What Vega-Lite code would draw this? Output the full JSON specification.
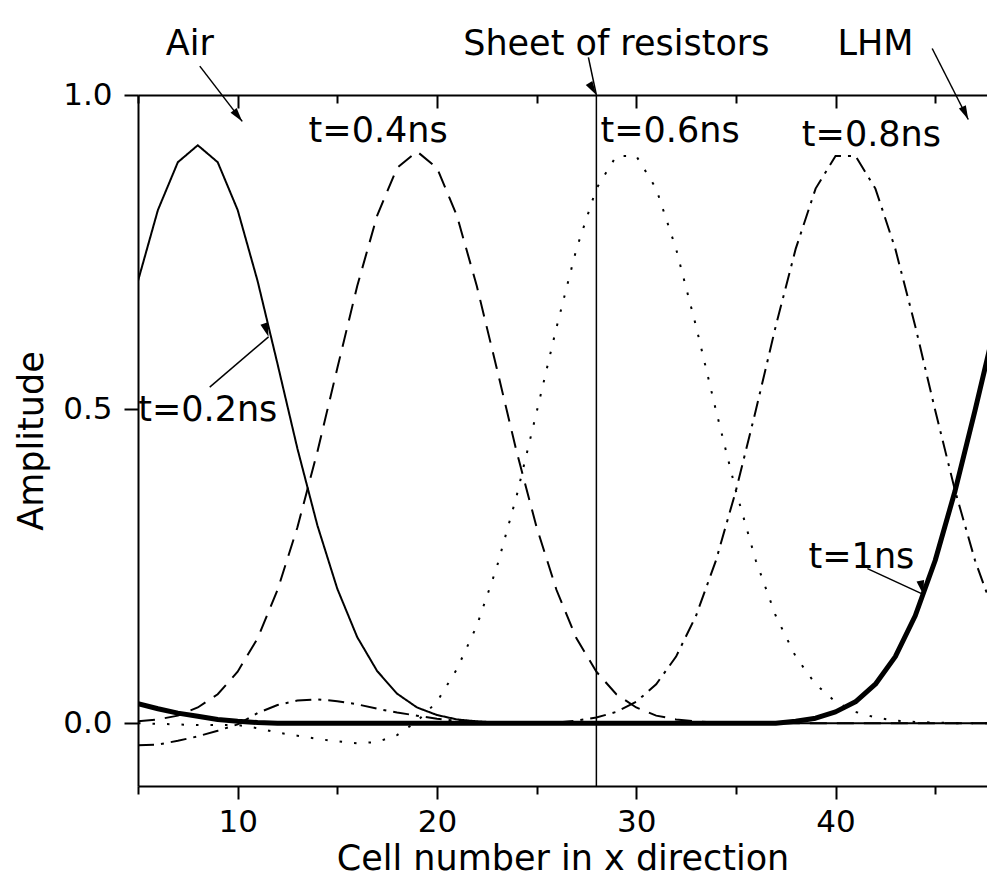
{
  "$schema": "https://vega.github.io/schema/vega-lite/v6.json",
  "width": 849,
  "height": 691,
  "autosize": {"type": "none"},
  "padding": {"left": 138, "top": 95, "right": 0, "bottom": 98},
  "background": "white",
  "config": {
    "view": {"stroke": null},
    "axis": {
      "grid": false,
      "domainColor": "black",
      "domainWidth": 2,
      "tickColor": "black",
      "tickWidth": 2,
      "labelColor": "black",
      "titleColor": "black",
      "labelFont": "DejaVu Sans",
      "titleFont": "DejaVu Sans",
      "labelFontSize": 31,
      "titleFontSize": 35,
      "titleFontWeight": "normal"
    }
  },
  "datasets": {
    "curves": [
      {"s":"t=0.2ns","x":5,"y":0.704},{"s":"t=0.2ns","x":6,"y":0.817},{"s":"t=0.2ns","x":7,"y":0.893},{"s":"t=0.2ns","x":8,"y":0.920},{"s":"t=0.2ns","x":9,"y":0.893},{"s":"t=0.2ns","x":10,"y":0.817},{"s":"t=0.2ns","x":11,"y":0.704},{"s":"t=0.2ns","x":12,"y":0.572},{"s":"t=0.2ns","x":13,"y":0.437},{"s":"t=0.2ns","x":14,"y":0.315},{"s":"t=0.2ns","x":15,"y":0.214},{"s":"t=0.2ns","x":16,"y":0.137},{"s":"t=0.2ns","x":17,"y":0.083},{"s":"t=0.2ns","x":18,"y":0.047},{"s":"t=0.2ns","x":19,"y":0.025},{"s":"t=0.2ns","x":20,"y":0.013},{"s":"t=0.2ns","x":21,"y":0.006},{"s":"t=0.2ns","x":22,"y":0.003},{"s":"t=0.2ns","x":23,"y":0.001},{"s":"t=0.2ns","x":24,"y":0},{"s":"t=0.2ns","x":25,"y":-0.001},{"s":"t=0.2ns","x":26,"y":-0.001},{"s":"t=0.2ns","x":27,"y":-0.001},{"s":"t=0.2ns","x":28,"y":0},{"s":"t=0.2ns","x":29,"y":0},{"s":"t=0.2ns","x":30,"y":0},{"s":"t=0.2ns","x":31,"y":0},{"s":"t=0.2ns","x":32,"y":0},{"s":"t=0.2ns","x":33,"y":0},{"s":"t=0.2ns","x":34,"y":0},{"s":"t=0.2ns","x":35,"y":0},{"s":"t=0.2ns","x":36,"y":0},{"s":"t=0.2ns","x":37,"y":0},{"s":"t=0.2ns","x":38,"y":0},{"s":"t=0.2ns","x":39,"y":0},{"s":"t=0.2ns","x":40,"y":0},{"s":"t=0.2ns","x":41,"y":0},{"s":"t=0.2ns","x":42,"y":0},{"s":"t=0.2ns","x":43,"y":0},{"s":"t=0.2ns","x":44,"y":0},{"s":"t=0.2ns","x":45,"y":0},{"s":"t=0.2ns","x":46,"y":0},{"s":"t=0.2ns","x":47,"y":0},{"s":"t=0.2ns","x":48,"y":0},
      {"s":"t=0.4ns","x":5,"y":0.003},{"s":"t=0.4ns","x":6,"y":0.006},{"s":"t=0.4ns","x":7,"y":0.012},{"s":"t=0.4ns","x":8,"y":0.025},{"s":"t=0.4ns","x":9,"y":0.046},{"s":"t=0.4ns","x":10,"y":0.082},{"s":"t=0.4ns","x":11,"y":0.135},{"s":"t=0.4ns","x":12,"y":0.212},{"s":"t=0.4ns","x":13,"y":0.312},{"s":"t=0.4ns","x":14,"y":0.432},{"s":"t=0.4ns","x":15,"y":0.565},{"s":"t=0.4ns","x":16,"y":0.696},{"s":"t=0.4ns","x":17,"y":0.808},{"s":"t=0.4ns","x":18,"y":0.884},{"s":"t=0.4ns","x":19,"y":0.910},{"s":"t=0.4ns","x":20,"y":0.884},{"s":"t=0.4ns","x":21,"y":0.808},{"s":"t=0.4ns","x":22,"y":0.696},{"s":"t=0.4ns","x":23,"y":0.565},{"s":"t=0.4ns","x":24,"y":0.432},{"s":"t=0.4ns","x":25,"y":0.312},{"s":"t=0.4ns","x":26,"y":0.212},{"s":"t=0.4ns","x":27,"y":0.135},{"s":"t=0.4ns","x":28,"y":0.082},{"s":"t=0.4ns","x":29,"y":0.046},{"s":"t=0.4ns","x":30,"y":0.025},{"s":"t=0.4ns","x":31,"y":0.012},{"s":"t=0.4ns","x":32,"y":0.006},{"s":"t=0.4ns","x":33,"y":0.003},{"s":"t=0.4ns","x":34,"y":0.001},{"s":"t=0.4ns","x":35,"y":0},{"s":"t=0.4ns","x":36,"y":0},{"s":"t=0.4ns","x":37,"y":0},{"s":"t=0.4ns","x":38,"y":0},{"s":"t=0.4ns","x":39,"y":0},{"s":"t=0.4ns","x":40,"y":0},{"s":"t=0.4ns","x":41,"y":0},{"s":"t=0.4ns","x":42,"y":0},{"s":"t=0.4ns","x":43,"y":0},{"s":"t=0.4ns","x":44,"y":0},{"s":"t=0.4ns","x":45,"y":0},{"s":"t=0.4ns","x":46,"y":0},{"s":"t=0.4ns","x":47,"y":0},{"s":"t=0.4ns","x":48,"y":0},
      {"s":"t=0.6ns","x":5,"y":0.000},{"s":"t=0.6ns","x":6,"y":-0.001},{"s":"t=0.6ns","x":7,"y":-0.002},{"s":"t=0.6ns","x":8,"y":-0.003},{"s":"t=0.6ns","x":9,"y":-0.003},{"s":"t=0.6ns","x":10,"y":-0.003},{"s":"t=0.6ns","x":11,"y":-0.008},{"s":"t=0.6ns","x":12,"y":-0.015},{"s":"t=0.6ns","x":13,"y":-0.020},{"s":"t=0.6ns","x":14,"y":-0.025},{"s":"t=0.6ns","x":15,"y":-0.029},{"s":"t=0.6ns","x":16,"y":-0.032},{"s":"t=0.6ns","x":17,"y":-0.030},{"s":"t=0.6ns","x":18,"y":-0.019},{"s":"t=0.6ns","x":19,"y":0.003},{"s":"t=0.6ns","x":20,"y":0.034},{"s":"t=0.6ns","x":21,"y":0.086},{"s":"t=0.6ns","x":22,"y":0.155},{"s":"t=0.6ns","x":23,"y":0.248},{"s":"t=0.6ns","x":24,"y":0.362},{"s":"t=0.6ns","x":25,"y":0.495},{"s":"t=0.6ns","x":26,"y":0.630},{"s":"t=0.6ns","x":27,"y":0.755},{"s":"t=0.6ns","x":28,"y":0.851},{"s":"t=0.6ns","x":29,"y":0.903},{"s":"t=0.6ns","x":30,"y":0.903},{"s":"t=0.6ns","x":31,"y":0.851},{"s":"t=0.6ns","x":32,"y":0.755},{"s":"t=0.6ns","x":33,"y":0.632},{"s":"t=0.6ns","x":34,"y":0.498},{"s":"t=0.6ns","x":35,"y":0.370},{"s":"t=0.6ns","x":36,"y":0.259},{"s":"t=0.6ns","x":37,"y":0.171},{"s":"t=0.6ns","x":38,"y":0.106},{"s":"t=0.6ns","x":39,"y":0.062},{"s":"t=0.6ns","x":40,"y":0.034},{"s":"t=0.6ns","x":41,"y":0.018},{"s":"t=0.6ns","x":42,"y":0.009},{"s":"t=0.6ns","x":43,"y":0.004},{"s":"t=0.6ns","x":44,"y":0.002},{"s":"t=0.6ns","x":45,"y":0.001},{"s":"t=0.6ns","x":46,"y":0},{"s":"t=0.6ns","x":47,"y":0},{"s":"t=0.6ns","x":48,"y":0},
      {"s":"t=0.8ns","x":5,"y":-0.035},{"s":"t=0.8ns","x":6,"y":-0.034},{"s":"t=0.8ns","x":7,"y":-0.028},{"s":"t=0.8ns","x":8,"y":-0.021},{"s":"t=0.8ns","x":9,"y":-0.012},{"s":"t=0.8ns","x":10,"y":-0.002},{"s":"t=0.8ns","x":11,"y":0.016},{"s":"t=0.8ns","x":12,"y":0.029},{"s":"t=0.8ns","x":13,"y":0.036},{"s":"t=0.8ns","x":14,"y":0.038},{"s":"t=0.8ns","x":15,"y":0.035},{"s":"t=0.8ns","x":16,"y":0.030},{"s":"t=0.8ns","x":17,"y":0.023},{"s":"t=0.8ns","x":18,"y":0.017},{"s":"t=0.8ns","x":19,"y":0.012},{"s":"t=0.8ns","x":20,"y":0.007},{"s":"t=0.8ns","x":21,"y":0.004},{"s":"t=0.8ns","x":22,"y":0.002},{"s":"t=0.8ns","x":23,"y":0.001},{"s":"t=0.8ns","x":24,"y":0},{"s":"t=0.8ns","x":25,"y":0},{"s":"t=0.8ns","x":26,"y":0.001},{"s":"t=0.8ns","x":27,"y":0.004},{"s":"t=0.8ns","x":28,"y":0.009},{"s":"t=0.8ns","x":29,"y":0.018},{"s":"t=0.8ns","x":30,"y":0.034},{"s":"t=0.8ns","x":31,"y":0.062},{"s":"t=0.8ns","x":32,"y":0.106},{"s":"t=0.8ns","x":33,"y":0.171},{"s":"t=0.8ns","x":34,"y":0.259},{"s":"t=0.8ns","x":35,"y":0.370},{"s":"t=0.8ns","x":36,"y":0.498},{"s":"t=0.8ns","x":37,"y":0.632},{"s":"t=0.8ns","x":38,"y":0.755},{"s":"t=0.8ns","x":39,"y":0.851},{"s":"t=0.8ns","x":40,"y":0.903},{"s":"t=0.8ns","x":41,"y":0.903},{"s":"t=0.8ns","x":42,"y":0.851},{"s":"t=0.8ns","x":43,"y":0.755},{"s":"t=0.8ns","x":44,"y":0.632},{"s":"t=0.8ns","x":45,"y":0.498},{"s":"t=0.8ns","x":46,"y":0.370},{"s":"t=0.8ns","x":47,"y":0.259},{"s":"t=0.8ns","x":48,"y":0.171},
      {"s":"t=1ns","x":5,"y":0.031},{"s":"t=1ns","x":6,"y":0.023},{"s":"t=1ns","x":7,"y":0.016},{"s":"t=1ns","x":8,"y":0.011},{"s":"t=1ns","x":9,"y":0.006},{"s":"t=1ns","x":10,"y":0.003},{"s":"t=1ns","x":11,"y":0.001},{"s":"t=1ns","x":12,"y":0},{"s":"t=1ns","x":13,"y":0},{"s":"t=1ns","x":14,"y":0},{"s":"t=1ns","x":15,"y":0},{"s":"t=1ns","x":16,"y":0},{"s":"t=1ns","x":17,"y":0},{"s":"t=1ns","x":18,"y":0},{"s":"t=1ns","x":19,"y":0},{"s":"t=1ns","x":20,"y":0},{"s":"t=1ns","x":21,"y":0},{"s":"t=1ns","x":22,"y":0},{"s":"t=1ns","x":23,"y":0},{"s":"t=1ns","x":24,"y":0},{"s":"t=1ns","x":25,"y":0},{"s":"t=1ns","x":26,"y":0},{"s":"t=1ns","x":27,"y":0},{"s":"t=1ns","x":28,"y":0},{"s":"t=1ns","x":29,"y":0},{"s":"t=1ns","x":30,"y":0},{"s":"t=1ns","x":31,"y":0},{"s":"t=1ns","x":32,"y":0},{"s":"t=1ns","x":33,"y":0},{"s":"t=1ns","x":34,"y":0},{"s":"t=1ns","x":35,"y":0},{"s":"t=1ns","x":36,"y":0},{"s":"t=1ns","x":37,"y":0},{"s":"t=1ns","x":38,"y":0.003},{"s":"t=1ns","x":39,"y":0.008},{"s":"t=1ns","x":40,"y":0.018},{"s":"t=1ns","x":41,"y":0.034},{"s":"t=1ns","x":42,"y":0.062},{"s":"t=1ns","x":43,"y":0.106},{"s":"t=1ns","x":44,"y":0.171},{"s":"t=1ns","x":45,"y":0.259},{"s":"t=1ns","x":46,"y":0.370},{"s":"t=1ns","x":47,"y":0.498},{"s":"t=1ns","x":48,"y":0.632}
    ],
    "labels": [
      {"label":"Air","x":7.6,"y":1.081},
      {"label":"Sheet of resistors","x":29.0,"y":1.081},
      {"label":"LHM","x":42.0,"y":1.081},
      {"label":"t=0.4ns","x":17.05,"y":0.942},
      {"label":"t=0.6ns","x":31.7,"y":0.942},
      {"label":"t=0.8ns","x":41.8,"y":0.937},
      {"label":"t=0.2ns","x":8.5,"y":0.499},
      {"label":"t=1ns","x":41.3,"y":0.265}
    ],
    "arrows": [
      {"a":"Air","x1":8.1,"y1":1.046,"x2":10.23,"y2":0.958},
      {"a":"Sheet","x1":27.6,"y1":1.06,"x2":28.0,"y2":1.0},
      {"a":"LHM","x1":44.85,"y1":1.074,"x2":46.66,"y2":0.961},
      {"a":"t02","x1":8.6,"y1":0.535,"x2":11.55,"y2":0.615},
      {"a":"t1","x1":41.6,"y1":0.246,"x2":44.4,"y2":0.205}
    ],
    "sheet": [{"x": 28}]
  },
  "resolve": {"axis": {"x": "independent", "y": "independent"}},
  "layer": [
    {
      "data": {"name": "curves"},
      "transform": [{"filter": "datum.s !== 't=1ns'"}],
      "mark": {"type": "line", "clip": true, "color": "black", "strokeCap": "butt", "strokeWidth": 2},
      "encoding": {
        "x": {
          "field": "x", "type": "quantitative",
          "scale": {"domain": [5, 47.6], "nice": false, "zero": false},
          "axis": {
            "orient": "bottom",
            "values": [5, 10, 15, 20, 25, 30, 35, 40, 45],
            "format": "d",
            "labelExpr": "datum.value % 10 === 0 ? datum.label : ''",
            "tickSize": {"condition": {"test": "datum.value % 10 === 0", "value": 13}, "value": 8},
            "labelPadding": 8,
            "title": "Cell number in x direction",
            "titlePadding": 4
          }
        },
        "y": {
          "field": "y", "type": "quantitative",
          "scale": {"domain": [-0.1, 1.0], "nice": false, "zero": false},
          "axis": {
            "orient": "left",
            "values": [0, 0.5, 1.0],
            "format": ".1f",
            "tickSize": 14,
            "labelPadding": 12,
            "title": "Amplitude",
            "titlePadding": 13
          }
        },
        "detail": {"field": "s"},
        "strokeDash": {
          "field": "s", "type": "nominal",
          "scale": {"domain": ["t=0.2ns", "t=0.4ns", "t=0.6ns", "t=0.8ns"],
                    "range": [[1, 0], [17, 10], [2.5, 12], [16, 7, 3, 7]]},
          "legend": null
        }
      }
    },
    {
      "data": {"name": "curves"},
      "transform": [{"filter": "datum.s === 't=1ns'"}],
      "mark": {"type": "line", "clip": true, "color": "black", "strokeWidth": 5, "strokeCap": "butt", "strokeJoin": "round"},
      "encoding": {
        "x": {"field": "x", "type": "quantitative", "axis": null},
        "y": {"field": "y", "type": "quantitative", "axis": null}
      }
    },
    {
      "data": {"name": "sheet"},
      "mark": {"type": "rule", "color": "black", "strokeWidth": 1.5},
      "encoding": {
        "x": {
          "field": "x", "type": "quantitative",
          "axis": {
            "orient": "top",
            "values": [5, 10, 15, 20, 25, 30, 35, 40, 45],
            "labels": false,
            "title": null,
            "tickSize": {"condition": {"test": "datum.value % 10 === 0", "value": -13}, "value": -8}
          }
        }
      }
    },
    {
      "data": {"name": "arrows"},
      "mark": {"type": "rule", "color": "black", "strokeWidth": 1.5},
      "encoding": {
        "x": {"field": "x1", "type": "quantitative", "axis": null},
        "y": {"field": "y1", "type": "quantitative", "axis": null},
        "x2": {"field": "x2"},
        "y2": {"field": "y2"}
      }
    },
    {
      "data": {"name": "arrows"},
      "mark": {"type": "point", "shape": "M0,0L-2,-0.55L-2,0.55Z", "filled": true, "color": "black", "opacity": 1, "size": 196},
      "encoding": {
        "x": {"field": "x2", "type": "quantitative", "axis": null},
        "y": {"field": "y2", "type": "quantitative", "axis": null},
        "angle": {
          "field": "a", "type": "ordinal",
          "scale": {"domain": ["Air", "Sheet", "LHM", "t02", "t1"], "range": [52, 78, 63, -40.4, 24.7]},
          "legend": null
        }
      }
    },
    {
      "data": {"name": "labels"},
      "mark": {"type": "text", "font": "DejaVu Sans", "fontSize": 35, "color": "black", "align": "center", "baseline": "middle"},
      "encoding": {
        "x": {"field": "x", "type": "quantitative", "axis": null},
        "y": {"field": "y", "type": "quantitative", "axis": null},
        "text": {"field": "label"}
      }
    }
  ]
}
